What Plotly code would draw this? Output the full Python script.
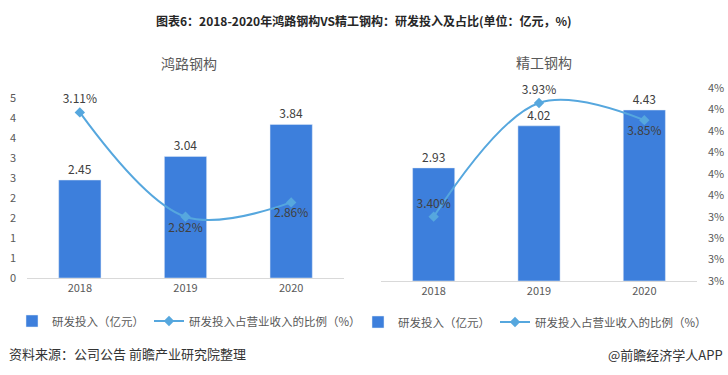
import plotly.graph_objects as go

years = ["2018", "2019", "2020"]
hl_rd = [2.45, 3.04, 3.84]          # 鸿路钢构 研发投入（亿元）
hl_ratio = [3.11, 2.82, 2.86]       # 鸿路钢构 研发投入占营业收入的比例（%）
jg_rd = [2.93, 4.02, 4.43]          # 精工钢构 研发投入（亿元）
jg_ratio = [3.40, 3.93, 3.85]       # 精工钢构 研发投入占营业收入的比例（%）

left_tickvals = [0, 0.5, 1, 1.5, 2, 2.5, 3, 3.5, 4, 4.5]
left_ticktext = ["0", "1", "1", "2", "2", "3", "3", "4", "4", "5"]
right_tickvals = [3.1, 3.2, 3.3, 3.4, 3.5, 3.6, 3.7, 3.8, 3.9, 4.0]
right_ticktext = ["3%", "3%", "3%", "3%", "4%", "4%", "4%", "4%", "4%", "4%"]

BAR = "#3D7FDC"
LINE = "#56A7DE"
TXT = "#404040"
AX = "#595959"
FONT = "Noto Sans CJK SC"
W, H = 728, 375

def px(v):
    return 1 - v / H

fig = go.Figure()

fig.add_bar(x=years, y=hl_rd, xaxis="x", yaxis="y", marker_color=BAR, width=0.4,
            text=[f"{v:.2f}" for v in hl_rd], textposition="outside", cliponaxis=False,
            textfont=dict(size=12, color=TXT), name="研发投入（亿元）", legend="legend")
fig.add_scatter(x=years, y=hl_ratio, xaxis="x", yaxis="y2", mode="lines+markers+text",
                line=dict(color=LINE, width=2, shape="spline"),
                marker=dict(symbol="diamond", size=8, color=LINE),
                text=[f"{v:.2f}%" for v in hl_ratio],
                textposition=["top center", "bottom center", "bottom center"],
                textfont=dict(size=12, color=TXT), cliponaxis=False,
                name="研发投入占营业收入的比例（%）", legend="legend")

fig.add_bar(x=years, y=jg_rd, xaxis="x2", yaxis="y3", marker_color=BAR, width=0.4,
            text=[f"{v:.2f}" for v in jg_rd], textposition="outside", cliponaxis=False,
            textfont=dict(size=12, color=TXT), name="研发投入（亿元）", legend="legend2")
fig.add_scatter(x=years, y=jg_ratio, xaxis="x2", yaxis="y4", mode="lines+markers+text",
                line=dict(color=LINE, width=2, shape="spline"),
                marker=dict(symbol="diamond", size=8, color=LINE),
                text=[f"{v:.2f}%" for v in jg_ratio],
                textposition=["top center", "top center", "bottom center"],
                textfont=dict(size=12, color=TXT), cliponaxis=False,
                name="研发投入占营业收入的比例（%）", legend="legend2")

xcommon = dict(showline=True, linecolor="#D9D9D9", linewidth=1, ticks="",
               tickfont=dict(size=11, color=AX), showgrid=False, zeroline=False,
               fixedrange=True, automargin=False)

legend_common = dict(orientation="h", font=dict(size=11.5, color=AX, family=FONT),
                     bgcolor="rgba(0,0,0,0)", itemwidth=30, yanchor="middle",
                     xanchor="left", traceorder="normal")

fig.update_layout(
    width=W, height=H, margin=dict(l=0, r=0, t=0, b=0, pad=0, autoexpand=False),
    paper_bgcolor="white", plot_bgcolor="white",
    font=dict(family=FONT, color=AX),
    showlegend=True, bargap=0.6,
    xaxis=dict(domain=[27 / W, 344 / W], anchor="y", **xcommon),
    yaxis=dict(domain=[px(278), px(98)], range=[0, 4.5], anchor="x",
               tickvals=left_tickvals, ticktext=left_ticktext,
               tickfont=dict(size=11, color=AX), showgrid=False, zeroline=False,
               showline=False, ticks="", ticklabelstandoff=10, automargin=False),
    yaxis2=dict(overlaying="y", anchor="x", range=[2.65, 3.15], visible=False),
    xaxis2=dict(domain=[381 / W, 697 / W], anchor="y3", **xcommon),
    yaxis3=dict(domain=[px(281), px(88)], range=[0, 5], anchor="x2", visible=False),
    yaxis4=dict(overlaying="y3", anchor="x2", side="right", range=[3.1, 4.0],
                tickvals=right_tickvals, ticktext=right_ticktext,
                tickfont=dict(size=11, color=AX), showgrid=False, zeroline=False,
                showline=False, ticks="", ticklabelstandoff=10, automargin=False),
    legend=dict(x=12 / W, y=px(321), **legend_common),
    legend2=dict(x=358 / W, y=px(322), **legend_common),
)

fig.add_annotation(text="<b>图表6：2018-2020年鸿路钢构VS精工钢构：研发投入及占比(单位：亿元，%)</b>",
                   x=364 / W, y=px(20), xref="paper", yref="paper", showarrow=False,
                   xanchor="center", yanchor="middle",
                   font=dict(size=12, color="#262626", family=FONT))
fig.add_annotation(text="鸿路钢构", x=189 / W, y=px(63), xref="paper", yref="paper",
                   showarrow=False, xanchor="center", yanchor="middle",
                   font=dict(size=14, color=AX, family=FONT))
fig.add_annotation(text="精工钢构", x=544 / W, y=px(62), xref="paper", yref="paper",
                   showarrow=False, xanchor="center", yanchor="middle",
                   font=dict(size=14, color=AX, family=FONT))
fig.add_annotation(text="资料来源：公司公告 前瞻产业研究院整理", x=7 / W, y=px(353),
                   xref="paper", yref="paper", showarrow=False, xanchor="left",
                   yanchor="middle", font=dict(size=13, color="#333333", family=FONT))
fig.add_annotation(text="@前瞻经济学人APP", x=725 / W, y=px(354),
                   xref="paper", yref="paper", showarrow=False, xanchor="right",
                   yanchor="middle", font=dict(size=13, color="#333333", family=FONT))

fig.write_html("out.html", config={"displayModeBar": False},
               post_script="document.body.style.margin='0';document.body.style.overflow='hidden';")
